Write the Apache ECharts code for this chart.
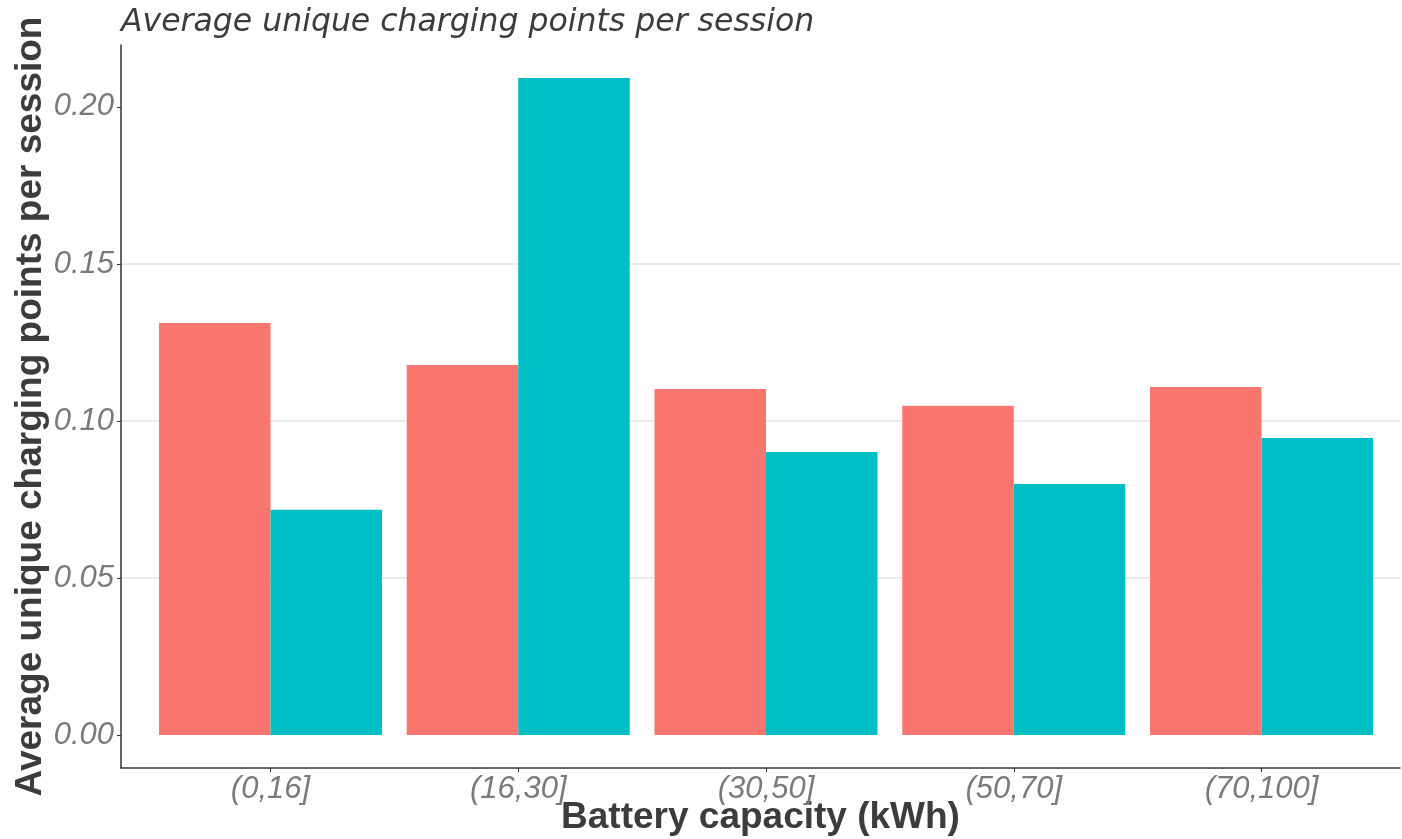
<!DOCTYPE html>
<html>
<head>
<meta charset="utf-8">
<script src="https://cdn.jsdelivr.net/npm/echarts@6/dist/echarts.min.js"></script>
<style>
  html, body { margin: 0; padding: 0; background: #fff; }
  #chart { width: 1402px; height: 839px; }
</style>
</head>
<body>
<div id="chart"></div>
<script>
// battery capacity bins (ggplot positions 1..5)
const categories = ['(0,16]', '(16,30]', '(30,50]', '(50,70]', '(70,100]'];
const redValues = [0.1312, 0.1178, 0.1102, 0.1048, 0.1108];
const tealValues = [0.0717, 0.2092, 0.0901, 0.0799, 0.0946];
const yTicks = [0, 0.05, 0.10, 0.15, 0.20];

const positions = categories.map((c, i) => i + 1);
const toPairs = vals => vals.map((v, i) => [positions[i], v]);

const textColor = '#3c3c3c';
const tickColor = '#7a7a7a';

const chart = echarts.init(document.getElementById('chart'));
chart.setOption({
  animation: false,
  backgroundColor: '#fff',
  title: {
    text: 'Average unique charging points per session',
    left: 116,
    top: 2,
    textStyle: { fontFamily: 'DejaVu Sans', fontStyle: 'italic', fontWeight: 'normal', fontSize: 31.5, color: textColor }
  },
  grid: { left: 121, right: 2, top: 45, bottom: 71, outerBoundsMode: 'none' },
  xAxis: {
    type: 'value',
    // plot panel runs a bit past the right edge of the image
    min: 0.3966,
    max: 5.559,
    name: 'Battery capacity (kWh)',
    nameLocation: 'middle',
    nameGap: 31,
    nameMoveOverlap: false,
    nameTextStyle: { fontFamily: 'Liberation Sans', fontWeight: 'bold', fontSize: 37, color: textColor },
    axisLine: { onZero: false, lineStyle: { color: '#333', width: 1.5 } },
    axisTick: { customValues: positions, length: 4, lineStyle: { color: '#333' } },
    axisLabel: {
      customValues: positions,
      formatter: v => categories[Math.round(v) - 1],
      fontFamily: 'Liberation Sans', fontStyle: 'italic', fontSize: 31, color: tickColor, margin: 6
    },
    splitLine: { show: false }
  },
  yAxis: {
    type: 'value',
    min: -0.0105,
    max: 0.2197,
    splitNumber: 5,
    name: 'Average unique charging points per session',
    nameLocation: 'middle',
    nameGap: 72,
    nameMoveOverlap: false,
    nameTextStyle: { fontFamily: 'Liberation Sans', fontWeight: 'bold', fontSize: 37, color: textColor },
    axisLine: { show: true, onZero: false, lineStyle: { color: '#333', width: 1.5 } },
    axisTick: { show: true, customValues: yTicks, length: 4, lineStyle: { color: '#333' } },
    axisLabel: {
      customValues: yTicks,
      formatter: v => v.toFixed(2),
      fontFamily: 'Liberation Sans', fontStyle: 'italic', fontSize: 31, color: tickColor, margin: 7
    },
    splitLine: {
      show: true,
      showMinLine: false,
      showMaxLine: false,
      lineStyle: { color: '#ebebeb', width: 2 }
    }
  },
  series: [
    {
      type: 'bar',
      data: toPairs(redValues),
      barGap: '0%',
      barCategoryGap: '10%',
      itemStyle: { color: '#F8766D' }
    },
    {
      type: 'bar',
      data: toPairs(tealValues),
      barGap: '0%',
      barCategoryGap: '10%',
      itemStyle: { color: '#00BFC4' }
    }
  ]
});
</script>
</body>
</html>
